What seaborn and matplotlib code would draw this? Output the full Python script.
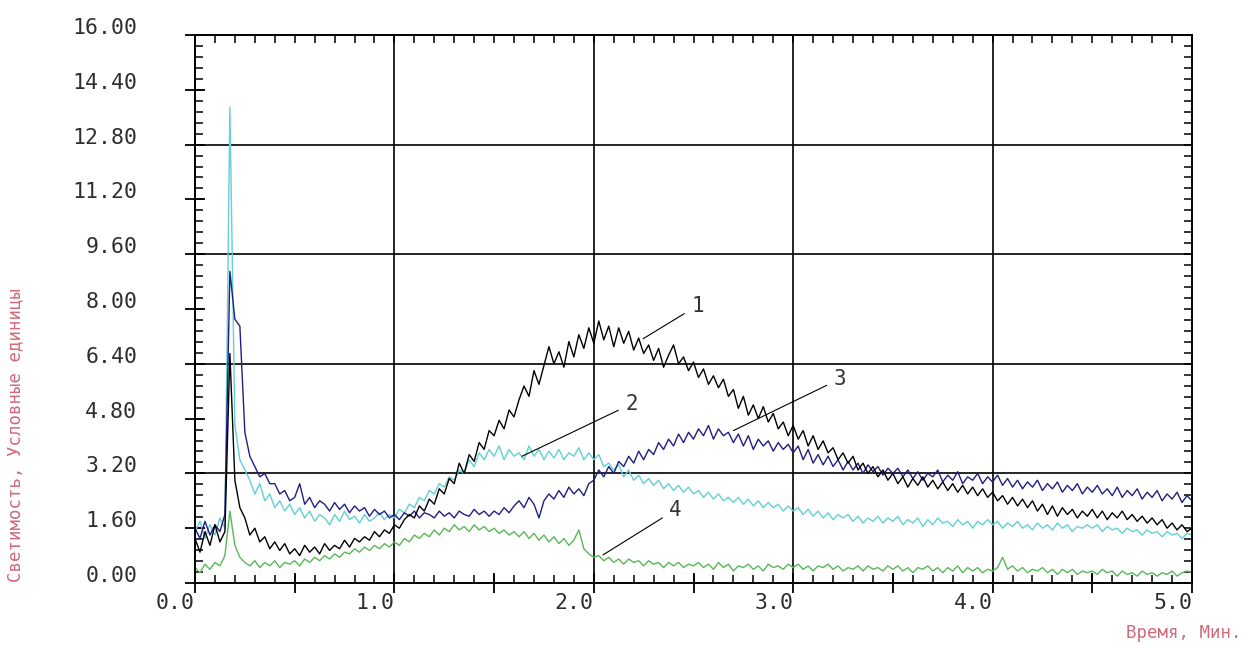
import numpy as np
import pandas as pd
import matplotlib
matplotlib.use("Agg")
import matplotlib.pyplot as plt
import matplotlib.transforms as mtransforms
from matplotlib.ticker import MultipleLocator, FuncFormatter
import seaborn as sns

STEP = 0.025

curve1 = [  # black, "1"
    1.3, 0.9, 1.5, 1.1, 1.7, 1.2, 1.5, 6.7, 3.0, 2.2, 1.9, 1.4, 1.6, 1.2, 1.35, 1.0, 1.2, 0.95, 1.15, 0.85,
    1.0, 0.8, 1.1, 0.9, 1.05, 0.85, 1.15, 0.95, 1.1, 1.0, 1.25, 1.05, 1.3, 1.2, 1.35, 1.25, 1.5, 1.35, 1.55, 1.45,
    1.7, 1.6, 1.85, 2.0, 1.9, 2.25, 2.1, 2.45, 2.3, 2.75, 2.6, 3.05, 2.9, 3.5, 3.2, 3.75, 3.55, 4.1, 3.9, 4.45,
    4.3, 4.75, 4.5, 5.05, 4.85, 5.35, 5.75, 5.45, 6.2, 5.8, 6.35, 6.9, 6.4, 6.75, 6.3, 7.05, 6.6, 7.25, 6.85, 7.45,
    7.0, 7.65, 7.1, 7.5, 6.9, 7.45, 7.0, 7.35, 6.8, 7.15, 6.7, 6.95, 6.5, 6.85, 6.3, 6.65, 6.95, 6.4, 6.6, 6.2,
    6.45, 6.0, 6.25, 5.8, 6.05, 5.7, 5.95, 5.45, 5.65, 5.1, 5.45, 4.9, 5.2, 4.8, 5.15, 4.7, 4.95, 4.5, 4.7, 4.3,
    4.6, 4.2, 4.45, 4.0, 4.3, 3.9, 4.15, 3.8, 3.95, 3.6, 3.8, 3.5, 3.7, 3.3, 3.5, 3.2, 3.4, 3.1, 3.3, 3.0,
    3.2, 2.9, 3.1, 2.8, 3.05, 2.85, 3.1, 2.8, 3.0, 2.75, 2.95, 2.7, 2.9, 2.65, 2.85, 2.6, 2.8, 2.55, 2.75, 2.5,
    2.65, 2.4, 2.55, 2.3, 2.5, 2.25, 2.45, 2.2, 2.4, 2.1, 2.3, 2.0, 2.25, 1.95, 2.2, 2.0, 2.15, 1.9, 2.1, 1.95,
    2.15, 1.9, 2.1, 1.85, 2.05, 1.9, 2.1, 1.85, 2.0, 1.8, 1.95, 1.75, 1.9, 1.7, 1.85, 1.6, 1.75, 1.55, 1.7, 1.5,
    1.6,
]

curve2 = [  # cyan, "2"
    1.5, 1.8, 1.3, 1.7, 1.4, 1.9, 1.6, 13.9, 4.6, 3.6, 3.3, 3.0, 2.6, 2.9, 2.4, 2.6, 2.2, 2.4, 2.1, 2.3,
    2.0, 2.2, 1.9, 2.1, 1.8, 2.0, 1.9, 1.7, 2.0, 1.8, 2.1, 1.85, 1.95, 1.75, 2.0, 1.8, 1.9, 2.05, 1.85, 2.0,
    1.9, 2.15, 2.05, 2.3, 2.2, 2.5, 2.4, 2.7, 2.6, 2.9, 2.8, 3.1, 3.0, 3.3, 3.2, 3.6, 3.4, 3.8, 3.6, 3.9,
    3.7, 4.0, 3.6, 3.9, 3.7, 3.8, 3.6, 4.0, 3.7, 3.9, 3.6, 3.85, 3.65, 3.9, 3.6, 3.8, 3.7, 3.95, 3.6, 3.8,
    3.6, 3.75, 3.4, 3.5, 3.3, 3.45, 3.1, 3.3, 3.0, 3.15, 2.9, 3.05, 2.85, 3.0, 2.75, 2.9, 2.7, 2.85, 2.65, 2.8,
    2.6, 2.7, 2.5, 2.65, 2.45, 2.6, 2.4, 2.5, 2.35, 2.5, 2.3, 2.45, 2.25, 2.4, 2.2, 2.35, 2.2, 2.3, 2.1, 2.25,
    2.1, 2.2, 2.0, 2.15, 1.95, 2.1, 1.9, 2.05, 1.85, 2.0, 1.9, 2.0, 1.8, 1.95, 1.75, 1.9, 1.8, 1.95, 1.75, 1.9,
    1.8, 1.95, 1.7, 1.85, 1.75, 1.9, 1.65, 1.85, 1.7, 1.9, 1.75, 1.8, 1.65, 1.85, 1.7, 1.8, 1.6, 1.8, 1.7, 1.85,
    1.7, 1.8, 1.6, 1.75, 1.65, 1.8, 1.6, 1.7, 1.55, 1.75, 1.6, 1.7, 1.55, 1.75, 1.6, 1.7, 1.5, 1.65, 1.6, 1.7,
    1.6, 1.7, 1.5, 1.65, 1.55, 1.6, 1.45, 1.6, 1.5, 1.55, 1.4, 1.55, 1.45, 1.5, 1.35, 1.5, 1.4, 1.45, 1.3, 1.45,
    1.4,
]

curve3 = [  # navy, "3"
    1.6, 1.3, 1.8, 1.4, 1.7, 1.5, 2.0, 9.1, 7.7, 7.5, 4.4, 3.7, 3.4, 3.1, 3.2, 2.9, 2.9, 2.6, 2.7, 2.4,
    2.5, 2.9, 2.3, 2.5, 2.2, 2.4, 2.3, 2.1, 2.35, 2.15, 2.3, 2.05, 2.25, 2.1, 2.2, 1.95, 2.15, 2.0, 2.1, 1.9,
    2.0, 1.85, 2.05, 1.95, 2.1, 1.9, 2.05, 2.0, 1.9, 2.1, 1.95, 2.05, 1.9, 2.1, 2.0, 1.95, 2.15, 2.0, 2.1, 1.95,
    2.1, 2.0, 2.2, 2.05, 2.25, 2.4, 2.2, 2.5, 2.3, 1.9, 2.4, 2.6, 2.45, 2.7, 2.5, 2.8, 2.6, 2.75, 2.55, 2.9,
    3.0, 3.3, 3.1, 3.4, 3.2, 3.55, 3.4, 3.7, 3.5, 3.85, 3.6, 3.9, 3.75, 4.1, 3.9, 4.2, 4.0, 4.35, 4.1, 4.4,
    4.2, 4.5, 4.3, 4.6, 4.2, 4.5, 4.3, 4.4, 4.1, 4.35, 4.0, 4.3, 3.9, 4.2, 4.0, 4.15, 3.85, 4.1, 3.9, 4.05,
    3.8, 4.0, 3.6, 3.9, 3.5, 3.75, 3.45, 3.7, 3.4, 3.6, 3.3, 3.55, 3.3, 3.5, 3.2, 3.45, 3.25, 3.4, 3.15, 3.35,
    3.2, 3.35, 3.1, 3.3, 3.05, 3.25, 3.0, 3.2, 3.1, 3.3, 2.95, 3.15, 3.0, 3.25, 2.9, 3.1, 3.0, 3.2, 2.9, 3.1,
    2.95, 3.15, 2.85, 3.05, 2.8, 3.0, 2.75, 2.95, 2.8, 3.0, 2.7, 2.9, 2.75, 2.95, 2.65, 2.85, 2.7, 2.9, 2.6, 2.8,
    2.65, 2.85, 2.6, 2.75, 2.55, 2.8, 2.5, 2.7, 2.55, 2.75, 2.45, 2.65, 2.5, 2.7, 2.4, 2.6, 2.45, 2.65, 2.35, 2.55,
    2.4,
]

curve4 = [  # green, "4"
    0.45, 0.3, 0.55, 0.4, 0.6, 0.5, 0.8, 2.1, 1.1, 0.75, 0.6, 0.5, 0.65, 0.45, 0.6, 0.5, 0.65, 0.45, 0.6, 0.55,
    0.65, 0.5, 0.7, 0.6, 0.75, 0.65, 0.8, 0.7, 0.85, 0.75, 0.9, 0.85, 1.0, 0.9, 1.05, 0.95, 1.1, 1.0, 1.15, 1.05,
    1.2, 1.1, 1.3, 1.2, 1.4, 1.3, 1.45, 1.35, 1.55, 1.4, 1.6, 1.5, 1.7, 1.55, 1.65, 1.5, 1.7, 1.55, 1.65, 1.5,
    1.6, 1.45, 1.55, 1.4, 1.5, 1.35, 1.5, 1.3, 1.45, 1.25, 1.4, 1.2, 1.35, 1.15, 1.3, 1.1, 1.25, 1.55, 1.0, 0.85,
    0.75, 0.8, 0.65, 0.75, 0.6, 0.7, 0.55, 0.7, 0.6, 0.65, 0.5, 0.65, 0.55, 0.6, 0.45, 0.6, 0.5, 0.6, 0.45, 0.55,
    0.5, 0.6, 0.45, 0.55, 0.4, 0.6, 0.45, 0.55, 0.35, 0.5, 0.45, 0.55, 0.4, 0.5, 0.35, 0.55, 0.45, 0.5, 0.4, 0.55,
    0.45, 0.55, 0.4, 0.5, 0.35, 0.5, 0.45, 0.55, 0.4, 0.5, 0.35, 0.45, 0.4, 0.5, 0.35, 0.5, 0.4, 0.45, 0.35, 0.5,
    0.4, 0.5, 0.35, 0.45, 0.3, 0.45, 0.4, 0.5, 0.35, 0.45, 0.3, 0.45, 0.35, 0.5, 0.3, 0.45, 0.35, 0.45, 0.3, 0.4,
    0.35, 0.45, 0.75, 0.4, 0.5, 0.35, 0.45, 0.3, 0.4, 0.35, 0.45, 0.3, 0.4, 0.25, 0.4, 0.3, 0.4, 0.25, 0.35, 0.3,
    0.35, 0.25, 0.4, 0.3, 0.35, 0.2, 0.35, 0.25, 0.3, 0.2, 0.35, 0.25, 0.3, 0.2, 0.3, 0.25, 0.35, 0.2, 0.3, 0.35,
    0.3,
]

curve_names = ["4", "2", "3", "1"]          # drawing order (last on top)
curve_colors = ["#58b858", "#62d0d4", "#1f1f82", "#000000"]

x_gridlines = [1.0, 2.0, 3.0, 4.0]
y_gridlines = [3.2, 6.4, 9.6, 12.8]

ann_labels = ["1", "2", "3", "4"]
ann_points = [(2.247, 7.13), (1.64, 3.70), (2.70, 4.45), (2.046, 0.82)]
ann_texts = [(2.52, 8.10), (2.19, 5.23), (3.235, 5.96), (2.41, 2.14)]

x_label = "Время, Мин."
y_label = "Светимость, Условные единицы"

# ---------------- build frame ----------------
t = np.round(np.arange(len(curve1)) * STEP, 3)
series = {"1": curve1, "2": curve2, "3": curve3, "4": curve4}
df = pd.concat(
    [pd.DataFrame({"t": t, "v": series[k], "curve": k}) for k in curve_names],
    ignore_index=True,
)

# ---------------- figure ----------------
sns.set_style("white")
plt.rcParams["font.family"] = ["DejaVu Sans Mono", "DejaVu Sans"]

W, H = 1245, 646
fig = plt.figure(figsize=(W / 100, H / 100), dpi=100)
ax = fig.add_axes([195 / W, 1 - 583 / H, (1192 - 195) / W, (583 - 35) / H])

for g in x_gridlines:
    ax.axvline(g, color="black", lw=1.2, zorder=1)
for g in y_gridlines:
    ax.axhline(g, color="black", lw=1.2, zorder=1)

sns.lineplot(
    data=df, x="t", y="v", hue="curve", hue_order=curve_names,
    palette=curve_colors, estimator=None, sort=False, legend=False,
    linewidth=1.0, ax=ax, zorder=2,
)

ax.set_xlim(0, 5.0)
ax.set_ylim(0, 16)
ax.set_xlabel("")
ax.set_ylabel("")

for s in ax.spines.values():
    s.set_color("black")
    s.set_linewidth(1.4)
    s.set_visible(True)

ax.xaxis.set_major_locator(MultipleLocator(0.5))
ax.xaxis.set_minor_locator(MultipleLocator(0.1))
ax.xaxis.set_major_formatter(
    FuncFormatter(lambda v, p: f"{v:.1f}" if abs(v - round(v)) < 1e-6 else "")
)
ax.yaxis.set_major_locator(MultipleLocator(1.6))
ax.yaxis.set_minor_locator(MultipleLocator(0.32))
ax.yaxis.set_major_formatter(FuncFormatter(lambda v, p: f"{v:.2f}"))
ax.xaxis.remove_overlapping_locs = False
ax.yaxis.remove_overlapping_locs = False

tick_col = "#2e2e2e"
ax.tick_params(axis="both", which="major", direction="inout", length=15, width=1.3,
               color="black", top=False, right=False, bottom=True, left=True,
               labelcolor=tick_col, labelsize=15.5)
ax.tick_params(axis="both", which="minor", direction="in", length=5.5, width=1.1,
               color="black", top=True, right=True, bottom=True, left=True)
ax.tick_params(axis="y", which="major", pad=34)
ax.tick_params(axis="x", which="major", pad=0)

fig.canvas.draw()
for lab in ax.get_xticklabels():
    lab.set_horizontalalignment("right")
offset = mtransforms.ScaledTranslation(0, 0.09, fig.dpi_scale_trans)
for lab in ax.get_yticklabels():
    lab.set_transform(lab.get_transform() + offset)

for lab, (px, py), (tx, ty) in zip(ann_labels, ann_points, ann_texts):
    ax.annotate(lab, xy=(px, py), xytext=(tx, ty), ha="center", va="center",
                fontsize=15, color="#333333", zorder=5,
                arrowprops=dict(arrowstyle="-", color="black", lw=0.8,
                                shrinkA=3, shrinkB=0))

label_col = "#d0697a"
fig.text(15 / W, 1 - 582 / H, y_label, rotation=90, ha="center", va="bottom",
         fontsize=12.5, color=label_col)
fig.text(1242 / W, 1 - 633 / H, x_label, ha="right", va="center",
         fontsize=12.5, color=label_col)

fig.savefig("out.png", dpi=100, facecolor="white")
